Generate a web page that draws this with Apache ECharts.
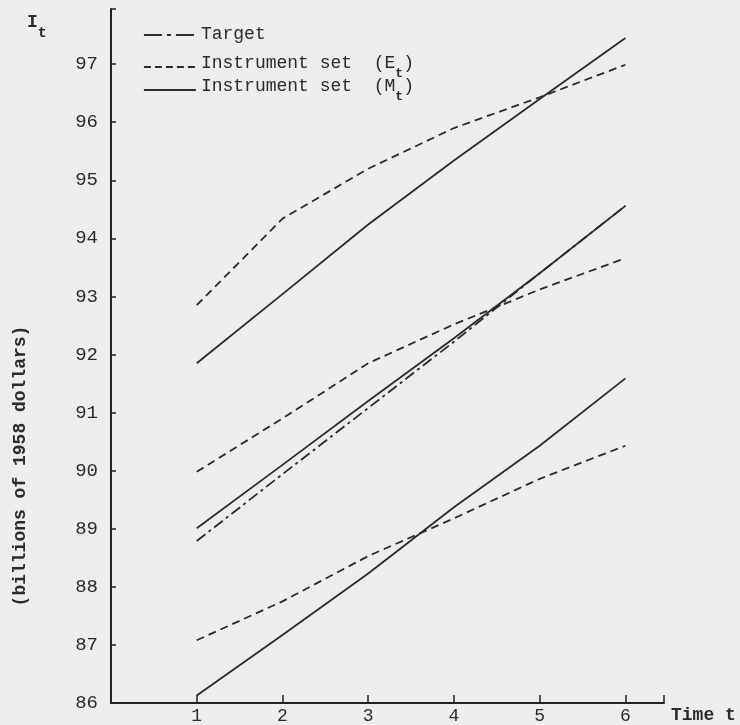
<!DOCTYPE html>
<html>
<head>
<meta charset="utf-8">
<script src="https://cdn.jsdelivr.net/npm/echarts@6/dist/echarts.min.js"></script>
<style>
  html, body { margin: 0; padding: 0; background: #ededed; }
  #chart { width: 740px; height: 725px; }
</style>
</head>
<body>
<div id="chart"></div>
<script>
// time periods and paths
var times = [1, 2, 3, 4, 5, 6];
var targetMid = [88.79, 89.94, 91.08, 92.22, 93.40, 94.56];
var instETop = [92.85, 94.34, 95.20, 95.90, 96.43, 96.99];
var instMTop = [91.85, 93.04, 94.24, 95.34, 96.40, 97.45];
var instEMid = [89.98, 90.90, 91.85, 92.52, 93.12, 93.66];
var instMMid = [89.01, 90.10, 91.20, 92.28, 93.40, 94.56];
var instELow = [87.08, 87.75, 88.53, 89.18, 89.86, 90.43];
var instMLow = [86.13, 87.17, 88.23, 89.37, 90.43, 91.59];

var yTicks = [86, 87, 88, 89, 90, 91, 92, 93, 94, 95, 96, 97];
var xTicks = [1, 2, 3, 4, 5, 6];

var FONT = '"Liberation Mono", "DejaVu Sans Mono", monospace';
var INK = '#2b2b2b';

function pairs(vals) {
    return times.map(function (t, i) { return [t, vals[i]]; });
}

var NAME_T = 'Target';
var NAME_E = 'Instrument set (E)';
var NAME_M = 'Instrument set (M)';

function lineSeries(name, vals, type, z) {
    return {
        name: name,
        type: 'line',
        data: pairs(vals),
        symbol: 'none',
        z: z,
        lineStyle: { color: INK, width: 1.8, type: type },
        itemStyle: { color: INK },
        animation: false
    };
}

var chart = echarts.init(document.getElementById('chart'));

var legendText = {
    fontFamily: FONT,
    fontSize: 18,
    color: INK,
    rich: {
        m: { fontFamily: FONT, fontSize: 18, color: INK, lineHeight: 20, verticalAlign: 'top' },
        s: { fontFamily: FONT, fontSize: 13, color: INK, lineHeight: 26, fontWeight: 'bold', verticalAlign: 'bottom' }
    }
};

// hide the circle that line legends draw by default
var noSymbol = { color: 'rgba(0,0,0,0)', borderColor: 'rgba(0,0,0,0)', borderWidth: 0 };

function legendFormatter(name) {
    if (name === NAME_E) return '{m|Instrument set  (E}{s|t}{m|)}';
    if (name === NAME_M) return '{m|Instrument set  (M}{s|t}{m|)}';
    return '{m|' + name + '}';
}

var option = {
    backgroundColor: '#ededed',
    animation: false,
    grid: { left: 111, right: 76, top: 9, bottom: 22 },
    legend: [
        {
            data: [NAME_T],
            orient: 'vertical',
            left: 138, top: 20,
            itemWidth: 52, itemHeight: 14,
            itemStyle: noSymbol,
            lineStyle: { type: [18, 5, 4, 5], width: 1.8 },
            formatter: legendFormatter,
            textStyle: legendText,
            selectedMode: false
        },
        {
            data: [
                { name: NAME_E, lineStyle: { type: [7, 4], width: 1.8 } },
                { name: NAME_M, lineStyle: { type: 'solid', width: 1.8 } }
            ],
            orient: 'vertical',
            left: 138, top: 49,
            itemWidth: 52, itemHeight: 14,
            itemGap: -3,
            itemStyle: noSymbol,
            formatter: legendFormatter,
            textStyle: legendText,
            selectedMode: false
        }
    ],
    xAxis: {
        type: 'value',
        min: 0, max: 6.45, interval: 1,
        name: 'Time t',
        nameLocation: 'end',
        nameGap: 7,
        nameTextStyle: {
            fontFamily: FONT, fontSize: 18, fontWeight: 'bold', color: INK,
            verticalAlign: 'top', align: 'left', padding: [3, 0, 0, 0]
        },
        splitLine: { show: false },
        axisLine: { lineStyle: { color: '#222', width: 2 } },
        axisTick: { inside: true, length: 8, lineStyle: { color: '#222', width: 1.5 } },
        axisLabel: {
            showMinLabel: false,
            fontFamily: FONT, fontSize: 18, color: INK, margin: 4,
            formatter: function (v) { return xTicks.indexOf(v) >= 0 ? String(v) : ''; }
        }
    },
    yAxis: {
        type: 'value',
        min: 86, max: 97.95, interval: 1,
        splitLine: { show: false },
        axisLine: { show: true, lineStyle: { color: '#222', width: 2 } },
        axisTick: { show: true, inside: true, length: 5, lineStyle: { color: '#222', width: 1.5 } },
        axisLabel: {
            fontFamily: FONT, fontSize: 19, color: INK, margin: 13,
            formatter: function (v) { return yTicks.indexOf(v) >= 0 ? String(v) : ''; }
        }
    },
    graphic: [
        {
            type: 'text', left: 27, top: 13,
            style: {
                text: '{i|I}{t|t}',
                rich: {
                    i: { fontFamily: FONT, fontSize: 18, fontWeight: 'bold', fill: INK, lineHeight: 20, verticalAlign: 'top' },
                    t: { fontFamily: FONT, fontSize: 15, fontWeight: 'bold', fill: INK, lineHeight: 28, verticalAlign: 'bottom' }
                }
            }
        },
        {
            type: 'text',
            x: 20, y: 466,
            rotation: Math.PI / 2,
            style: {
                text: '(billions of 1958 dollars)',
                fontFamily: FONT, fontSize: 18, fontWeight: 'bold', fill: INK,
                align: 'center', verticalAlign: 'middle'
            }
        }
    ],
    series: [
        lineSeries(NAME_T, targetMid, [11, 4, 3, 4], 2),
        lineSeries(NAME_E, instETop, [8, 5], 3),
        lineSeries(NAME_M, instMTop, 'solid', 3),
        lineSeries(NAME_E, instEMid, [8, 5], 3),
        lineSeries(NAME_M, instMMid, 'solid', 3),
        lineSeries(NAME_E, instELow, [8, 5], 3),
        lineSeries(NAME_M, instMLow, 'solid', 3)
    ]
};

chart.setOption(option);

window.addEventListener('resize', function () {
    chart.resize();
});
</script>
</body>
</html>
